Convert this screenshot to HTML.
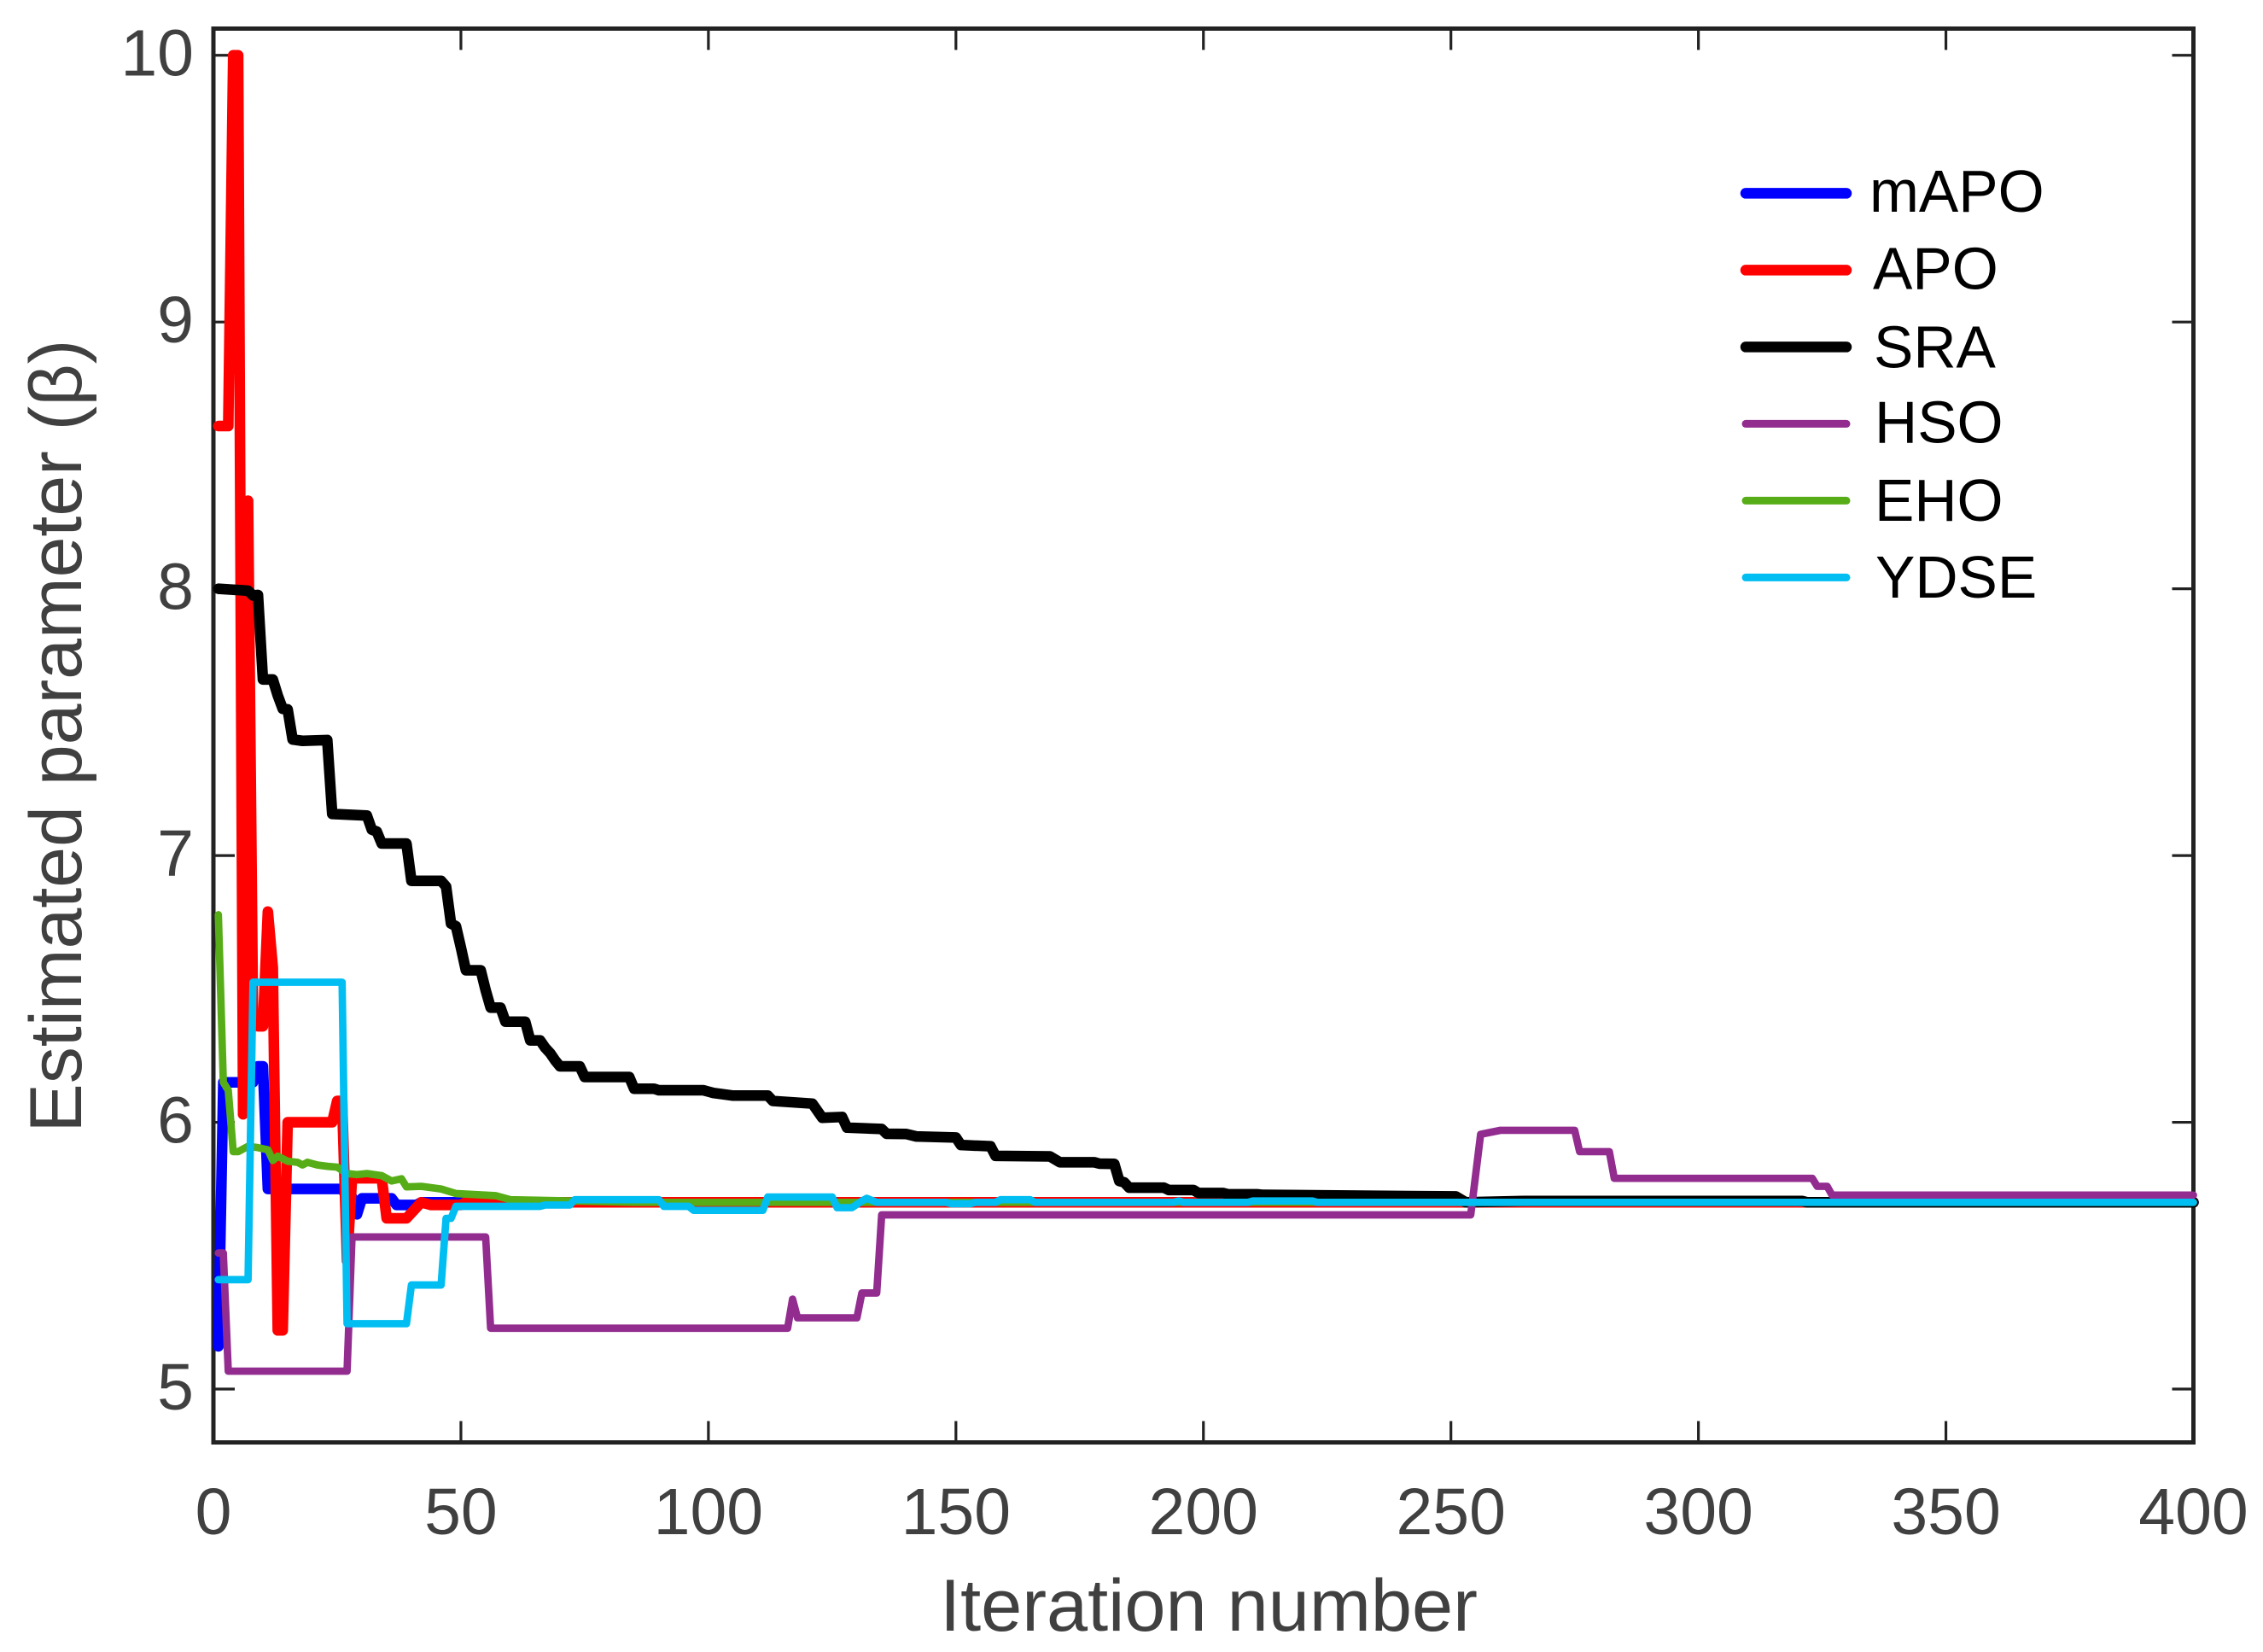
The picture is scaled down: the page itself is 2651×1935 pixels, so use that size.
<!DOCTYPE html>
<html lang="en">
<head>
<meta charset="utf-8">
<title>Estimated parameter convergence chart</title>
<style>
  html, body { margin: 0; padding: 0; background: #ffffff; }
  svg { display: block; font-family: "Liberation Sans", Arial, sans-serif; }
</style>
</head>
<body>
<svg id="chart" xmlns="http://www.w3.org/2000/svg" width="2651" height="1935" viewBox="0 0 2651 1935">
  <rect x="0" y="0" width="2651" height="1935" fill="#ffffff"/>
  <g id="ticks"></g>
  <rect x="250" y="33.5" width="2319.5" height="1656" fill="none" stroke="#222222" stroke-width="5"/>
  <g id="tick-labels" font-size="77" fill="#404040"></g>
  <text x="1416" y="1910" font-size="86.5" fill="#404040" text-anchor="middle">Iteration number</text>
  <text transform="translate(95 862) rotate(-90)" font-size="86" fill="#404040" text-anchor="middle">Estimated parameter (β)</text>
  <g id="series" fill="none" stroke-linejoin="round" stroke-linecap="round"></g>
  <g font-size="69.5" fill="#000000" stroke-linecap="round">
    <line x1="2045" y1="226.4" x2="2163" y2="226.4" stroke="#0000ff" stroke-width="12.5"/>
    <text x="2190" y="248">mAPO</text>
    <line x1="2045" y1="316.4" x2="2163" y2="316.4" stroke="#ff0000" stroke-width="12.5"/>
    <text x="2194" y="338.6">APO</text>
    <line x1="2045" y1="406.4" x2="2163" y2="406.4" stroke="#000000" stroke-width="12.5"/>
    <text x="2195" y="430.7">SRA</text>
    <line x1="2045" y1="496.4" x2="2163" y2="496.4" stroke="#922c8f" stroke-width="9"/>
    <text x="2196" y="518.6">HSO</text>
    <line x1="2045" y1="586.4" x2="2163" y2="586.4" stroke="#57ad17" stroke-width="9"/>
    <text x="2196" y="610">EHO</text>
    <line x1="2045" y1="676.4" x2="2163" y2="676.4" stroke="#00bdf2" stroke-width="9"/>
    <text x="2197" y="700">YDSE</text>
  </g>
</svg>
<script>
const xTickValues = [0, 50, 100, 150, 200, 250, 300, 350, 400];
const yTickValues = [5, 6, 7, 8, 9, 10];

const mapoIter = [1, 2, 8, 9, 10, 11, 26, 27, 28, 29, 30, 36, 37, 41, 42, 400];
const mapoBeta = [5.16, 6.15, 6.15, 6.21, 6.21, 5.75, 5.75, 5.72, 5.72, 5.655, 5.715, 5.715, 5.69, 5.69, 5.70, 5.70];

const apoIter = [1, 3, 4, 5, 6, 7, 8, 9, 10, 11, 12, 13, 14, 15, 24, 25, 26, 27, 28, 34, 35, 39, 41, 42, 44, 50, 51, 400];
const apoBeta = [8.61, 8.61, 10, 10, 6.03, 8.33, 6.4, 6.36, 6.36, 6.79, 6.58, 5.22, 5.22, 6.0, 6.0, 6.08, 6.08, 5.48, 5.79, 5.79, 5.64, 5.64, 5.68, 5.70, 5.69, 5.69, 5.70, 5.70];

const sraIter = [1, 7, 8, 9, 10, 12, 13, 14, 15, 16, 18, 23, 24, 31, 32, 33, 34, 39, 40, 46, 47, 48, 49, 50, 51, 54, 55, 56, 58, 59, 63, 64, 66, 67, 68, 69, 70, 74, 75, 84, 85, 89, 90, 99, 100, 101, 105, 112, 113, 121, 123, 127, 128, 135, 136, 140, 142, 150, 151, 157, 158, 169, 171, 178, 179, 182, 183, 184, 185, 192, 193, 198, 199, 204, 205, 211, 212, 251, 253, 265, 321, 322, 400];
const sraBeta = [8.00, 7.993, 7.975, 7.977, 7.66, 7.66, 7.60, 7.55, 7.548, 7.435, 7.43, 7.433, 7.156, 7.15, 7.097, 7.09, 7.045, 7.045, 6.905, 6.905, 6.884, 6.745, 6.735, 6.655, 6.57, 6.57, 6.495, 6.43, 6.43, 6.377, 6.377, 6.307, 6.307, 6.28, 6.26, 6.233, 6.21, 6.21, 6.17, 6.17, 6.126, 6.126, 6.12, 6.12, 6.115, 6.11, 6.10, 6.10, 6.08, 6.07, 6.017, 6.02, 5.98, 5.975, 5.957, 5.956, 5.947, 5.943, 5.915, 5.91, 5.874, 5.872, 5.85, 5.85, 5.845, 5.844, 5.78, 5.775, 5.755, 5.755, 5.746, 5.746, 5.735, 5.735, 5.73, 5.73, 5.728, 5.722, 5.70, 5.705, 5.705, 5.70, 5.70];

const hsoIter = [1, 2, 3, 27, 28, 55, 56, 116, 117, 118, 130, 131, 134, 135, 254, 256, 260, 275, 276, 282, 283, 323, 324, 326, 327, 400];
const hsoBeta = [5.51, 5.51, 5.067, 5.067, 5.57, 5.57, 5.228, 5.228, 5.337, 5.267, 5.267, 5.36, 5.36, 5.653, 5.653, 5.955, 5.97, 5.97, 5.89, 5.89, 5.79, 5.79, 5.76, 5.76, 5.727, 5.727];

const ehoIter = [1, 2, 3, 4, 5, 7, 9, 11, 12, 13, 15, 17, 18, 19, 21, 23, 25, 27, 29, 31, 34, 36, 38, 39, 42, 46, 49, 57, 60, 73, 85, 400];
const ehoBeta = [6.778, 6.15, 6.12, 5.89, 5.89, 5.91, 5.905, 5.897, 5.857, 5.873, 5.854, 5.85, 5.84, 5.85, 5.84, 5.835, 5.832, 5.808, 5.804, 5.808, 5.80, 5.78, 5.788, 5.758, 5.76, 5.75, 5.733, 5.725, 5.71, 5.705, 5.70, 5.70];

const ydseIter = [1, 7, 8, 26, 27, 39, 40, 46, 47, 48, 49, 66, 67, 72, 73, 90, 91, 96, 97, 111, 112, 125, 126, 129, 131, 132, 134, 148, 149, 153, 154, 158, 159, 165, 166, 194, 195, 196, 209, 210, 222, 223, 400];
const ydseBeta = [5.41, 5.41, 6.525, 6.525, 5.245, 5.245, 5.39, 5.39, 5.64, 5.64, 5.685, 5.685, 5.69, 5.69, 5.71, 5.71, 5.685, 5.685, 5.67, 5.67, 5.72, 5.72, 5.68, 5.68, 5.705, 5.715, 5.70, 5.70, 5.695, 5.695, 5.70, 5.70, 5.71, 5.71, 5.70, 5.70, 5.705, 5.70, 5.70, 5.705, 5.705, 5.70, 5.70];

const SVG_NS = 'http://www.w3.org/2000/svg';
const xDomain = [0, 400];
const yDomain = [4.8, 10.1];
const plotBox = { left: 250, right: 2569.5, top: 33.5, bottom: 1689.5 };
const tickLength = 25;

function xScale(v) {
  return plotBox.left + (v - xDomain[0]) / (xDomain[1] - xDomain[0]) * (plotBox.right - plotBox.left);
}
function yScale(v) {
  return plotBox.bottom - (v - yDomain[0]) / (yDomain[1] - yDomain[0]) * (plotBox.bottom - plotBox.top);
}

const ticksGroup = document.getElementById('ticks');
const labelsGroup = document.getElementById('tick-labels');
const seriesGroup = document.getElementById('series');

function addTick(x1, y1, x2, y2) {
  const tick = document.createElementNS(SVG_NS, 'line');
  
  
  tick.setAttribute('x1', x1);
  tick.setAttribute('y1', y1);
  tick.setAttribute('x2', x2);
  tick.setAttribute('y2', y2);
  tick.setAttribute('stroke', '#222222');
  tick.setAttribute('stroke-width', '3.2');
  ticksGroup.appendChild(tick);
}

xTickValues.forEach(function (v) {
  const x = xScale(v);
  addTick(x, plotBox.bottom, x, plotBox.bottom - tickLength);
  addTick(x, plotBox.top, x, plotBox.top + tickLength);
  const label = document.createElementNS(SVG_NS, 'text');
  
  
  label.setAttribute('x', x);
  label.setAttribute('y', 1797);
  label.setAttribute('text-anchor', 'middle');
  label.textContent = String(v);
  labelsGroup.appendChild(label);
});

yTickValues.forEach(function (v) {
  const y = yScale(v);
  addTick(plotBox.left, y, plotBox.left + tickLength, y);
  addTick(plotBox.right, y, plotBox.right - tickLength, y);
  const label = document.createElementNS(SVG_NS, 'text');
  
  
  label.setAttribute('x', 227);
  label.setAttribute('y', y + 24);
  label.setAttribute('text-anchor', 'end');
  label.textContent = String(v);
  labelsGroup.appendChild(label);
});

function drawSeries(name, iters, values, color, width) {
  let d = '';
  for (let i = 0; i < iters.length; i++) {
    d += (i === 0 ? 'M' : 'L') + xScale(iters[i]).toFixed(2) + ' ' + yScale(values[i]).toFixed(2);
  }
  const path = document.createElementNS(SVG_NS, 'path');
  
  
  path.setAttribute('d', d);
  path.setAttribute('stroke', color);
  path.setAttribute('stroke-width', width);
  seriesGroup.appendChild(path);
}

drawSeries('series-mapo', mapoIter, mapoBeta, '#0000ff', 12.5);
drawSeries('series-apo', apoIter, apoBeta, '#ff0000', 12.5);
drawSeries('series-sra', sraIter, sraBeta, '#000000', 12.5);
drawSeries('series-hso', hsoIter, hsoBeta, '#922c8f', 8.7);
drawSeries('series-eho', ehoIter, ehoBeta, '#57ad17', 8.7);
drawSeries('series-ydse', ydseIter, ydseBeta, '#00bdf2', 8.7);
</script>
</body>
</html>
